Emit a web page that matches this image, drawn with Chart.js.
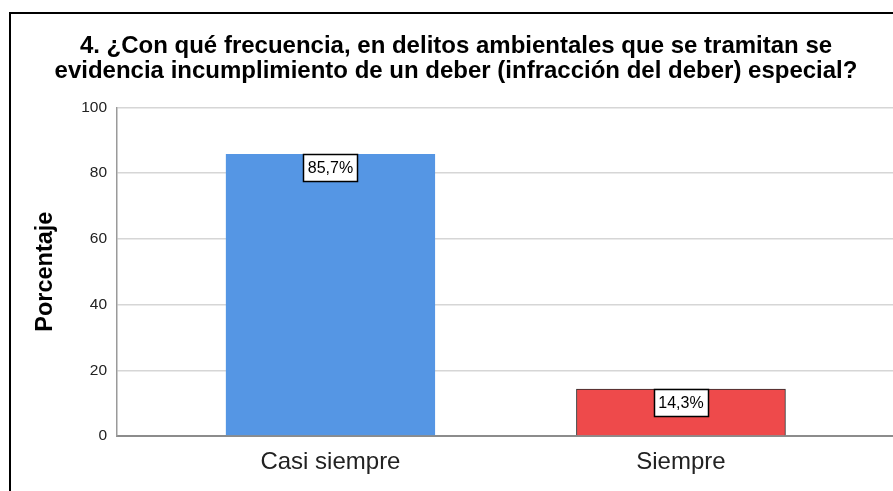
<!DOCTYPE html>
<html>
<head>
<meta charset="utf-8">
<script src="https://cdn.jsdelivr.net/npm/chart.js@4.4.1/dist/chart.umd.min.js"></script>
<style>
  html, body { margin: 0; padding: 0; background: #fff; }
  #wrap { position: relative; width: 893px; height: 491px; overflow: hidden; }
  #frame { position: absolute; left: 9px; top: 12px; width: 1000px; height: 1000px; border: 2px solid #000; box-sizing: border-box; pointer-events: none; }
  canvas { position: absolute; left: 0; top: 0; }
</style>
</head>
<body>
<div id="wrap">
  <canvas id="c" width="893" height="491"></canvas>
  <div id="frame"></div>
</div>
<script>
const titleLines = [
  "4. ¿Con qué frecuencia, en delitos ambientales que se tramitan se",
  "evidencia incumplimiento de un deber (infracción del deber) especial?"
];
const categories = ["Casi siempre", "Siempre"];
const percentages = [85.7, 14.3];
const valueLabels = ["85,7%", "14,3%"];
const yTicks = [0, 20, 40, 60, 80, 100];
const barColors = ["#5596E4", "#EE4A4B"];
const barBorders = ["#5596E4", "#2b2b2b"];

const points = categories.map((c, i) => ({ x: i, y: percentages[i] }));
const FONT = '"Liberation Sans", Arial, sans-serif';

const labelPlugin = {
  id: 'boxLabels',
  afterDatasetsDraw(chart) {
    const ctx = chart.ctx;
    const meta = chart.getDatasetMeta(0);
    ctx.save();
    ctx.font = '16px ' + FONT;
    ctx.textAlign = 'center';
    ctx.textBaseline = 'middle';
    meta.data.forEach((bar, i) => {
      const w = 54, h = 27;
      const x = Math.round(bar.x - w / 2) + 0.5;
      const y = Math.round(bar.y) + 0.5;
      ctx.fillStyle = '#fff';
      ctx.fillRect(x, y, w, h);
      ctx.strokeStyle = '#000';
      ctx.lineWidth = 1.5;
      ctx.strokeRect(x, y, w, h);
      ctx.fillStyle = '#000';
      ctx.fillText(valueLabels[i], bar.x, y + h / 2 + 1);
    });
    ctx.restore();
  }
};

new Chart(document.getElementById('c'), {
  type: 'bar',
  data: {
    datasets: [{
      data: points,
      backgroundColor: barColors,
      borderColor: barBorders,
      borderWidth: 1,
      barThickness: 209
    }]
  },
  options: {
    responsive: false,
    animation: false,
    layout: { padding: { left: 19, right: 0, top: 0, bottom: 0 } },
    plugins: {
      legend: { display: false },
      tooltip: { enabled: false },
      title: {
        display: true,
        text: titleLines,
        color: '#000',
        font: { family: FONT, size: 24, weight: 'bold', lineHeight: 1.05 },
        padding: { top: 34, bottom: 23 }
      }
    },
    scales: {
      x: {
        type: 'linear',
        offset: false,
        min: -0.609,
        max: 1.605,
        afterBuildTicks(scale) { scale.ticks = categories.map((c, i) => ({ value: i })); },
        afterFit(scale) { scale.height = 55; },
        grid: { display: false, drawTicks: false, offset: false },
        border: { display: true, color: '#8c8c8c', width: 2 },
        ticks: {
          padding: 12,
          color: '#222',
          font: { family: FONT, size: 24 },
          callback: (v) => categories[v] !== undefined ? categories[v] : ''
        }
      },
      y: {
        min: 0,
        max: 100,
        afterBuildTicks(scale) { scale.ticks = yTicks.map(v => ({ value: v })); },
        afterFit(scale) { scale.width = 98; },
        grid: { color: '#d6d6d6', lineWidth: 1.5, drawTicks: false },
        border: { display: true, color: '#9a9a9a', width: 1.5 },
        ticks: {
          padding: 10,
          color: '#222',
          font: { family: FONT, size: 15.5 }
        },
        title: {
          display: true,
          text: 'Porcentaje',
          color: '#000',
          font: { family: FONT, size: 23.5, weight: 'bold' },
          padding: { top: 12, bottom: 0 }
        }
      }
    }
  },
  plugins: [labelPlugin]
});
</script>
</body>
</html>
